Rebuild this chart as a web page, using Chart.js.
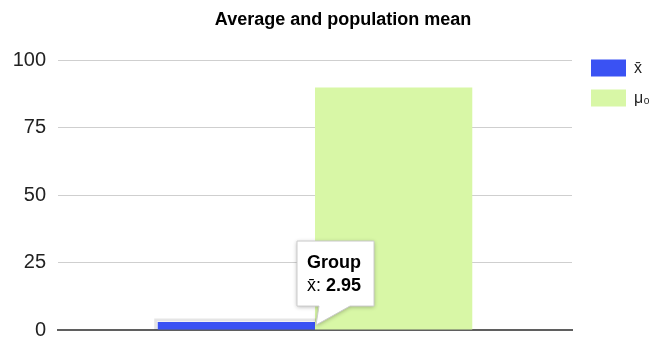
<!DOCTYPE html>
<html>
<head>
<meta charset="utf-8">
<script src="https://cdn.jsdelivr.net/npm/chart.js@4.4.0/dist/chart.umd.min.js"></script>
<style>
  html, body { margin: 0; padding: 0; background: #fff; }
</style>
</head>
<body>
<canvas id="mean-canvas" width="650" height="340"></canvas>
<script>
const CATEGORIES = ['Group']
const SERIES_LABELS = ['x̄', 'μ₀']
const XBAR_VALUES = [2.95]
const MU0_VALUES = [90]
const Y_TICKS = [0, 25, 50, 75, 100]
const TITLE = 'Average and population mean'

const FONT = "'Liberation Sans', Arial, Helvetica, sans-serif"

// legend sits a little higher and further right than chart.js puts it,
// and the title is centred a bit right of the canvas middle
const boxNudge = {
  id: 'boxNudge',
  afterLayout(chart) {
    const lg = chart.legend
    lg.top -= 14
    lg.bottom -= 14
    lg.left += 6
    lg.right += 6
    const tb = chart.titleBlock
    tb.left += 12
    tb.right += 12
  }
}

// light ring round the hovered bar
const hoverRing = {
  id: 'hoverRing',
  afterDatasetsDraw(chart) {
    const bar = chart.getDatasetMeta(0).data[0]
    const {ctx} = chart
    const l = bar.x - bar.width / 2
    const r = bar.x + bar.width / 2
    ctx.save()
    ctx.strokeStyle = 'rgba(0,0,0,0.10)'
    ctx.lineWidth = 3
    ctx.beginPath()
    ctx.moveTo(l - 2, bar.base)
    ctx.lineTo(l - 2, bar.y - 2)
    ctx.lineTo(r + 1, bar.y - 2)
    ctx.stroke()
    ctx.restore()
  }
}

// callout box for the first bar
const groupCallout = {
  id: 'groupCallout',
  afterDraw(chart) {
    const bar = chart.getDatasetMeta(0).data[0]
    const {ctx} = chart
    const tipX = bar.x + bar.width / 2 + 1
    const tipY = bar.y + 3
    const bx = tipX - 19
    const by = tipY - 84
    const bw = 77
    const bh = 65

    ctx.save()
    ctx.beginPath()
    ctx.moveTo(bx, by)
    ctx.lineTo(bx + bw, by)
    ctx.lineTo(bx + bw, by + bh)
    ctx.lineTo(tipX + 34, by + bh)
    ctx.lineTo(tipX, tipY)
    ctx.lineTo(tipX + 3, by + bh)
    ctx.lineTo(bx, by + bh)
    ctx.closePath()
    ctx.shadowColor = 'rgba(0,0,0,0.3)'
    ctx.shadowBlur = 4
    ctx.shadowOffsetY = 1
    ctx.fillStyle = '#fff'
    ctx.fill()
    ctx.shadowColor = 'transparent'
    ctx.strokeStyle = '#cccccc'
    ctx.lineWidth = 1
    ctx.stroke()

    ctx.fillStyle = '#000'
    ctx.textAlign = 'left'
    ctx.textBaseline = 'alphabetic'
    ctx.font = 'bold 18px ' + FONT
    ctx.fillText(CATEGORIES[0], bx + 10, by + 27)
    const lead = SERIES_LABELS[0] + ': '
    ctx.font = '18px ' + FONT
    ctx.fillText(lead, bx + 10, by + 50)
    const w = ctx.measureText(lead).width
    ctx.font = 'bold 18px ' + FONT
    ctx.fillText(XBAR_VALUES[0].toFixed(2), bx + 10 + w, by + 50)
    ctx.restore()
  }
}

const canvas = document.getElementById('mean-canvas')
new Chart(canvas, {
  type: 'bar',
  data: {
    labels: CATEGORIES,
    datasets: [{
      label: SERIES_LABELS[0],
      data: XBAR_VALUES,
      backgroundColor: '#3a52f3',
      borderWidth: 0
    }, {
      label: SERIES_LABELS[1],
      data: MU0_VALUES,
      backgroundColor: '#d8f7a6',
      borderWidth: 0
    }]
  },
  options: {
    responsive: false,
    animation: false,
    events: [],
    barPercentage: 1,
    categoryPercentage: 0.612,
    layout: {
      padding: {left: 12, right: 0, top: 0, bottom: 10}
    },
    plugins: {
      title: {
        display: true,
        text: TITLE,
        color: '#000',
        font: {size: 18, weight: 'bold', family: FONT},
        padding: {top: 9, bottom: 30}
      },
      legend: {
        position: 'right',
        align: 'start',
        fullSize: false,
        maxWidth: 78,
        labels: {
          boxWidth: 35,
          boxHeight: 17,
          padding: 13,
          color: '#222',
          font: {size: 16, family: FONT}
        }
      },
      tooltip: {enabled: false}
    },
    scales: {
      x: {
        z: 1,
        afterFit: (scale) => {
          scale.height = 0
        },
        grid: {display: false, drawTicks: false},
        ticks: {display: false},
        border: {display: true, color: '#5f5f5f', width: 2}
      },
      y: {
        min: 0,
        max: 100,
        afterBuildTicks: (scale) => {
          scale.ticks = Y_TICKS.map(v => ({value: v}))
        },
        afterFit: (scale) => {
          scale.width = 46
          scale.paddingBottom = 0
        },
        border: {display: false},
        grid: {
          drawTicks: false,
          color: (c) => (c.tick && c.tick.value === 0) ? 'rgba(0,0,0,0)' : '#cfcfcf'
        },
        ticks: {
          padding: 12,
          color: '#222',
          font: {size: 20, family: FONT}
        }
      }
    }
  },
  plugins: [boxNudge, hoverRing, groupCallout]
})
</script>
</body>
</html>
